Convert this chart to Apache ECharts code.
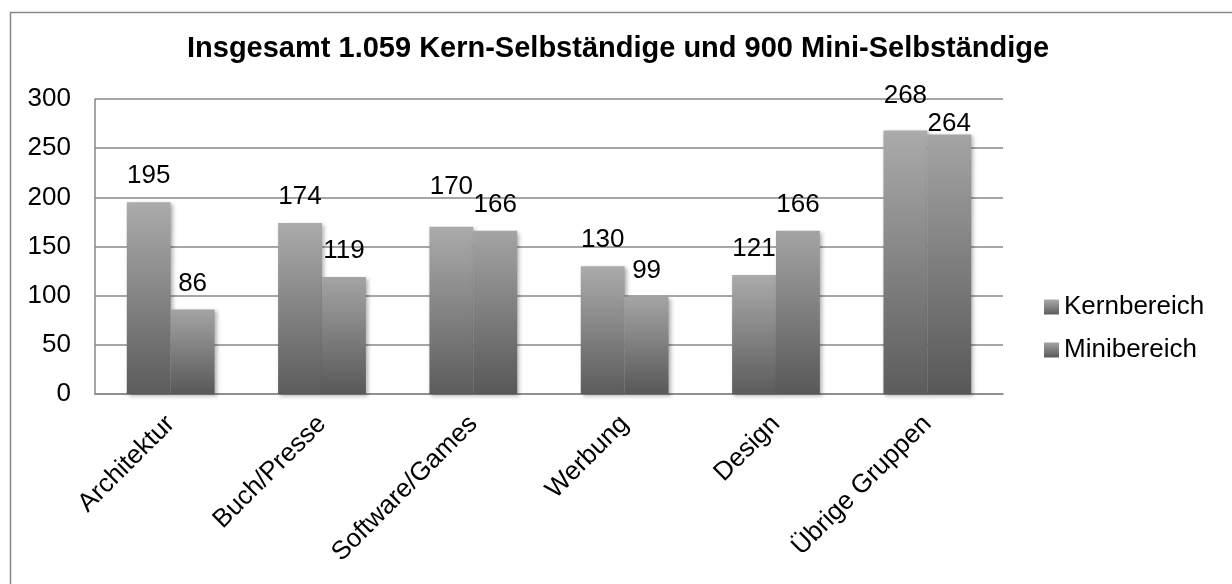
<!DOCTYPE html>
<html>
<head>
<meta charset="utf-8">
<script src="https://cdn.jsdelivr.net/npm/echarts@6/dist/echarts.min.js"></script>
<style>
  html, body { margin: 0; padding: 0; background: #fff; }
  #chart { width: 1232px; height: 584px; }
</style>
</head>
<body>
<div id="chart"></div>
<script>
  let categories = ['Architektur', 'Buch/Presse', 'Software/Games', 'Werbung', 'Design', 'Übrige Gruppen'];
  let kernbereich = [195, 174, 170, 130, 121, 268];
  let minibereich = [86, 119, 166, 99, 166, 264];
  let yTicks = { min: 0, max: 300, interval: 50 };

  let font = 'Liberation Sans, Arial, sans-serif';

  // excel pushes a few labels apart so they don't collide
  let kernLabelShift = { 2: -14, 5: -9 };
  let miniLabelShift = { 5: 15 };

  function barGradient(top, bottom) {
    return new echarts.graphic.LinearGradient(0, 0, 0, 1, [
      { offset: 0, color: top },
      { offset: 1, color: bottom }
    ]);
  }

  function makeSeries(name, data, top, bottom, shifts) {
    return {
      name: name,
      type: 'bar',
      data: data,
      barGap: 0,
      barCategoryGap: '42%',
      itemStyle: {
        color: barGradient(top, bottom),
        shadowBlur: 4,
        shadowOffsetX: 2,
        shadowOffsetY: 2,
        shadowColor: 'rgba(0,0,0,0.3)'
      },
      label: {
        show: true,
        position: 'top',
        distance: 13,
        color: '#000',
        fontFamily: font,
        fontSize: 26,
        lineHeight: 26
      },
      labelLayout: function (params) {
        return { dy: shifts[params.dataIndex] || 0 };
      }
    };
  }

  let chart = echarts.init(document.getElementById('chart'));
  chart.setOption({
    animation: false,
    backgroundColor: '#fff',
    graphic: [{
      type: 'rect',
      shape: { x: 10.5, y: 12.5, width: 1240, height: 600 },
      style: { fill: 'none', stroke: '#888', lineWidth: 1.5 },
      silent: true,
      z: -1
    }],
    title: {
      text: 'Insgesamt 1.059 Kern-Selbständige und 900 Mini-Selbständige',
      left: 187,
      top: 34,
      padding: 0,
      textStyle: { fontFamily: font, fontSize: 29, lineHeight: 29, fontWeight: 'bold', color: '#000' }
    },
    legend: {
      orient: 'vertical',
      left: 1044,
      top: 294,
      padding: 0,
      itemWidth: 15,
      itemHeight: 15,
      itemGap: 17,
      icon: 'rect',
      textStyle: { fontFamily: font, fontSize: 26, lineHeight: 26, color: '#000' },
      data: ['Kernbereich', 'Minibereich']
    },
    grid: { left: 95, right: 229, top: 99, bottom: 190, containLabel: false },
    xAxis: {
      type: 'category',
      data: categories,
      axisLine: { lineStyle: { color: '#888', width: 1.5 } },
      axisTick: { show: false },
      axisLabel: {
        rotate: 45,
        interval: 0,
        margin: 26,
        color: '#000',
        fontFamily: font,
        fontSize: 26,
        lineHeight: 26
      }
    },
    yAxis: {
      type: 'value',
      min: yTicks.min,
      max: yTicks.max,
      interval: yTicks.interval,
      axisLine: { show: true, lineStyle: { color: '#888', width: 1.5 } },
      axisTick: { show: false },
      splitLine: { lineStyle: { color: '#888', width: 1.5 } },
      axisLabel: {
        margin: 24,
        color: '#000',
        fontFamily: font,
        fontSize: 26
      }
    },
    series: [
      makeSeries('Kernbereich', kernbereich, '#ababab', '#5c5c5c', kernLabelShift),
      makeSeries('Minibereich', minibereich, '#a4a4a4', '#585858', miniLabelShift)
    ]
  });
</script>
</body>
</html>
